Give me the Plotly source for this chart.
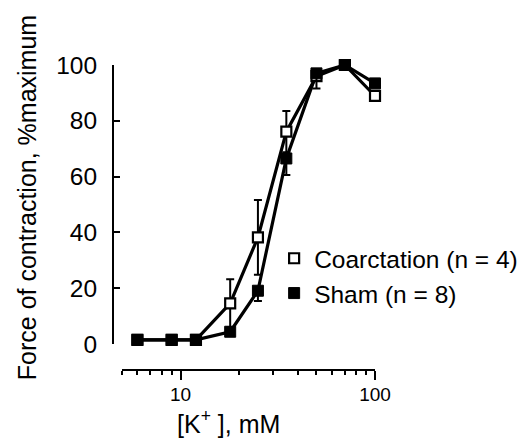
import plotly.graph_objects as go

# K+ concentration, mM
conc = [6, 9, 12, 18, 25, 35, 50, 70, 100]

# Force of contraction, % maximum
coarct = [1.5, 1.5, 1.5, 14.6, 38.2, 76.1, 96.0, 100.0, 88.9]
coarct_err_up = [0, 0, 0, 8.6, 13.4, 7.4, 0, 0, 0]
coarct_err_dn = [0, 0, 0, 8.6, 13.4, 7.4, 0, 0, 0]

sham = [1.5, 1.5, 1.5, 4.4, 19.1, 66.5, 97.0, 100.0, 93.4]
sham_err_dn = [0, 0, 0, 0, 3.7, 5.9, 5.4, 0, 0]
sham_err_up = [0, 0, 0, 0, 0, 0, 0, 0, 0]

x_tickvals = [10, 100]
x_ticktext = ["10", "100"]
y_tickvals = [0, 20, 40, 60, 80, 100]

FONT = "Liberation Sans, Arial, Helvetica, sans-serif"

fig = go.Figure()

fig.add_trace(go.Scatter(
    x=conc, y=coarct, mode="lines", showlegend=False,
    line=dict(color="black", width=3.2), cliponaxis=False, hoverinfo="skip"))
fig.add_trace(go.Scatter(
    x=conc, y=sham, mode="lines", showlegend=False,
    line=dict(color="black", width=3.2), cliponaxis=False, hoverinfo="skip"))

fig.add_trace(go.Scatter(
    x=conc, y=coarct, mode="markers", name="Coarctation (n = 4)",
    marker=dict(symbol="square", size=10, color="white",
                line=dict(color="black", width=2.2)),
    error_y=dict(type="data", symmetric=False, array=coarct_err_up,
                 arrayminus=coarct_err_dn, color="black", thickness=2, width=4),
    cliponaxis=False))
fig.add_trace(go.Scatter(
    x=conc, y=sham, mode="markers", name="Sham (n = 8)",
    marker=dict(symbol="square", size=11, color="black",
                line=dict(color="black", width=1)),
    error_y=dict(type="data", symmetric=False, array=sham_err_up,
                 arrayminus=sham_err_dn, color="black", thickness=2, width=4),
    cliponaxis=False))

fig.update_layout(
    width=532, height=448,
    margin=dict(l=105, r=165, t=57, b=86),
    paper_bgcolor="white", plot_bgcolor="white",
    font=dict(family=FONT, color="black"),
    showlegend=True,
    legend=dict(x=0.615, y=0.44, xanchor="left", yanchor="top",
                font=dict(size=24.5, family=FONT, color="black"),
                bgcolor="rgba(0,0,0,0)", borderwidth=0,
                tracegroupgap=0, itemwidth=30),
    xaxis=dict(
        type="log", range=[0.699, 2.0], domain=[0.0344, 1.0],
        anchor="free", position=0,
        showline=True, linecolor="black", linewidth=2,
        showgrid=False, zeroline=False,
        tickmode="array", tickvals=x_tickvals, ticktext=x_ticktext,
        ticks="outside", ticklen=9, tickwidth=2, tickcolor="black",
        tickfont=dict(size=19, family=FONT, color="black"),
        ticklabelstandoff=-2,
        minor=dict(ticks="outside", ticklen=4, tickwidth=2, tickcolor="black",
                   dtick="D1", showgrid=False),
    ),
    yaxis=dict(
        range=[0, 100], domain=[0.0852, 1.0],
        anchor="free", position=0,
        showline=True, linecolor="black", linewidth=2,
        showgrid=False, zeroline=False,
        tickmode="array", tickvals=y_tickvals,
        ticks="inside", ticklen=6, tickwidth=2, tickcolor="black",
        tickfont=dict(size=24.5, family=FONT, color="black"),
        ticklabelstandoff=10,
    ),
    annotations=[
        dict(text="Force of contraction, %maximum", textangle=-90,
             xref="paper", yref="paper", x=-0.33, y=0.565,
             xanchor="center", yanchor="middle", showarrow=False,
             font=dict(size=25, family=FONT, color="black")),
        dict(text="[K<sup>+</sup> ], mM",
             xref="paper", yref="paper", x=0.44, y=-0.17,
             xanchor="center", yanchor="middle", showarrow=False,
             font=dict(size=25, family=FONT, color="black")),
    ],
)

fig.write_html("out.html")
